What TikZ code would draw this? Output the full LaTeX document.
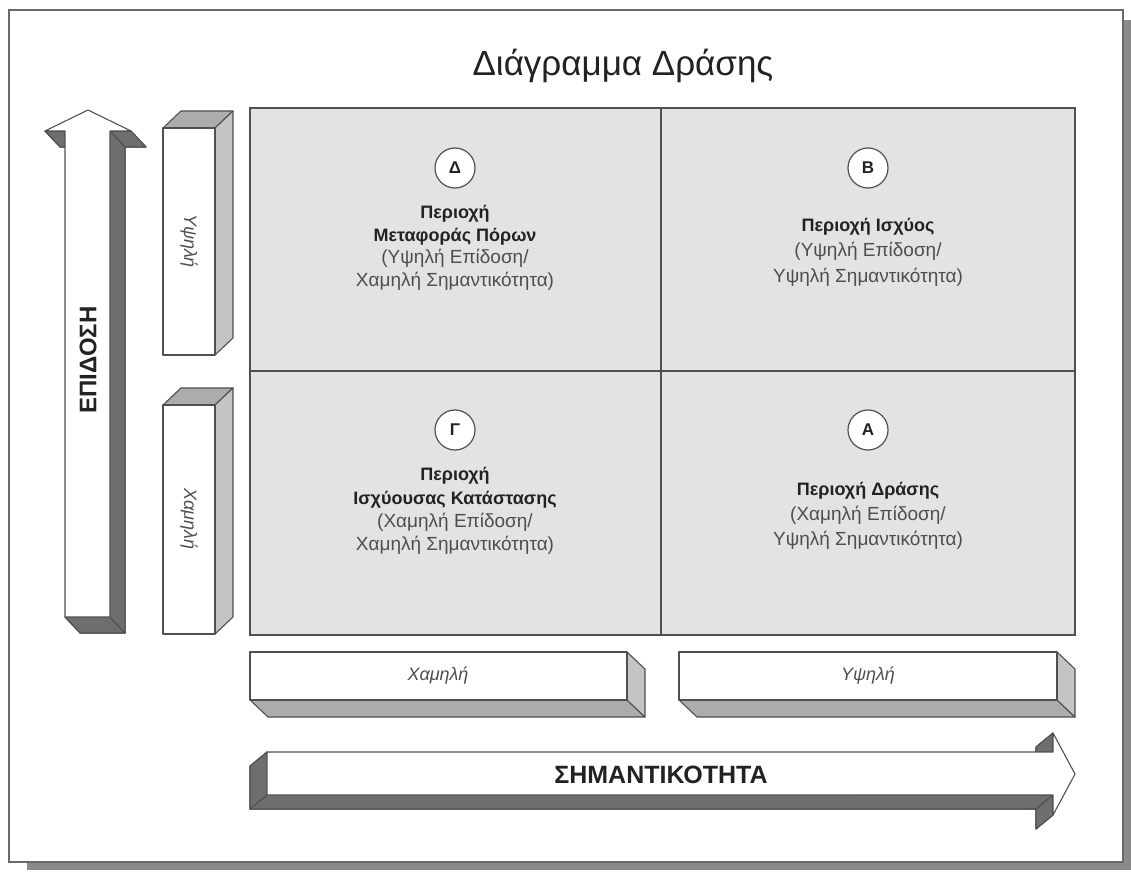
\documentclass[tikz,border=0pt]{standalone}
\usepackage{fontspec}
\setmainfont{Liberation Sans}
\begin{document}
\definecolor{shadowgray}{HTML}{8A8A8A}
\definecolor{framegray}{HTML}{6A6A6A}
\definecolor{cellgray}{HTML}{E3E3E3}
\definecolor{gridline}{HTML}{505050}
\definecolor{darkface}{HTML}{6E6E6E}
\definecolor{topface}{HTML}{ACACAC}
\definecolor{sideface}{HTML}{C4C4C4}
\definecolor{bodytext}{HTML}{4E4E4E}
\definecolor{headtext}{HTML}{222222}
\begin{tikzpicture}[x=1pt,y=-1pt,
  outline/.style={draw=gridline, line width=1.1pt, line join=round},
  front/.style={outline, fill=white},
  darkpart/.style={outline, fill=darkface},
  toppart/.style={outline, fill=topface},
  sidepart/.style={outline, fill=sideface},
  badge/.style={circle, draw=gridline, line width=1.2pt, fill=white,
    minimum size=40pt, inner sep=0pt, text=headtext,
    font=\fontsize{17}{17}\selectfont\bfseries},
  zone/.style={align=center, text=bodytext},
  barlabel/.style={text=bodytext, font=\fontsize{18}{18}\selectfont\itshape}]
\useasboundingbox (0,0) rectangle (1131,874);

% page frame with drop shadow
\fill[shadowgray] (27,20) rectangle (1131,870);
\filldraw[fill=white, draw=framegray, line width=1.2pt] (9,10) rectangle (1123,862);

% title
\node[text=headtext, font=\fontsize{35}{35}\selectfont] (title) at (623,66) {Διάγραμμα Δράσης};

% four-cell matrix
\filldraw[fill=cellgray, draw=gridline, line width=1.5pt] (250,108) rectangle (1075,635);
\draw[gridline, line width=1.5pt] (661,108) -- (661,635);
\draw[gridline, line width=1.5pt] (250,371) -- (1075,371);

% vertical axis arrow (extruded toward lower right)
\fill[darkpart] (110,131) -- (125,147) -- (125,633) -- (110,617) -- cycle;
\fill[darkpart] (65,617) -- (110,617) -- (125,633) -- (80,633) -- cycle;
\fill[darkpart] (110,131) -- (131,131) -- (146,147) -- (125,147) -- cycle;
\fill[darkpart] (45,131) -- (65,131) -- (80,147) -- (60,147) -- cycle;
\draw[darkpart] (110,131) -- (125,147) -- (125,633) -- (110,617);
\draw[darkpart] (65,617) -- (80,633) -- (125,633);
\draw[darkpart] (131,131) -- (146,147) -- (125,147);
\draw[darkpart] (45,131) -- (60,147) -- (65,147);
\draw[front] (88,110) -- (131,131) -- (110,131) -- (110,617) -- (65,617) -- (65,131) -- (45,131) -- cycle;
\node[rotate=90, text=headtext, font=\fontsize{24}{24}\selectfont\bfseries] (yaxis) at (88,360) {ΕΠΙΔΟΣΗ};

% vertical level bars
\draw[toppart] (163,128) -- (215,128) -- (233,111) -- (181,111) -- cycle;
\draw[sidepart] (215,128) -- (233,111) -- (233,338) -- (215,355) -- cycle;
\draw[front] (163,128) rectangle (215,355);
\node[barlabel, rotate=-90] (yhigh) at (189,241) {Υψηλή};

\draw[toppart] (163,405) -- (215,405) -- (233,388) -- (181,388) -- cycle;
\draw[sidepart] (215,405) -- (233,388) -- (233,617) -- (215,634) -- cycle;
\draw[front] (163,405) rectangle (215,634);
\node[barlabel, rotate=-90] (ylow) at (189,519) {Χαμηλή};

% horizontal level bars
\draw[toppart] (250,700) -- (627,700) -- (645,717) -- (268,717) -- cycle;
\draw[sidepart] (627,652) -- (645,669) -- (645,717) -- (627,700) -- cycle;
\draw[front] (250,652) rectangle (627,700);
\node[barlabel] (xlow) at (438,676) {Χαμηλή};

\draw[toppart] (679,700) -- (1057,700) -- (1075,717) -- (697,717) -- cycle;
\draw[sidepart] (1057,652) -- (1075,669) -- (1075,717) -- (1057,700) -- cycle;
\draw[front] (679,652) rectangle (1057,700);
\node[barlabel] (xhigh) at (868,676) {Υψηλή};

% horizontal axis arrow (extruded toward lower left)
\fill[darkpart] (267,752) -- (267,795) -- (250,809) -- (250,766) -- cycle;
\fill[darkpart] (267,795) -- (1053,795) -- (1036,809) -- (250,809) -- cycle;
\fill[darkpart] (1053,795) -- (1053,815) -- (1036,829) -- (1036,809) -- cycle;
\fill[darkpart] (1053,733) -- (1053,752) -- (1036,766) -- (1036,747) -- cycle;
\draw[darkpart] (267,752) -- (250,766) -- (250,809) -- (1036,809);
\draw[darkpart] (267,795) -- (250,809);
\draw[darkpart] (1053,815) -- (1036,829) -- (1036,809);
\draw[darkpart] (1053,733) -- (1036,747) -- (1036,752);
\draw[front] (267,752) -- (1053,752) -- (1053,733) -- (1075,774) -- (1053,815) -- (1053,795) -- (267,795) -- cycle;
\node[text=headtext, font=\fontsize{25}{25}\selectfont\bfseries] (xaxis) at (661,775) {ΣΗΜΑΝΤΙΚΟΤΗΤΑ};

% cell badges
\node[badge] (bd) at (455,168) {Δ};
\node[badge] (bb) at (868,168) {Β};
\node[badge] (bg) at (455,430) {Γ};
\node[badge] (ba) at (868,430) {Α};

% cell descriptions
\node[zone, font=\fontsize{19}{22.5}\selectfont] (zd) at (455,248)
  {\textcolor{headtext}{\fontsize{18}{22.5}\selectfont\bfseries Περιοχή}\\ \textcolor{headtext}{\fontsize{18}{22.5}\selectfont\bfseries Μεταφοράς Πόρων}\\ (Υψηλή Επίδοση/\\ Χαμηλή Σημαντικότητα)};
\node[zone, font=\fontsize{19}{25.5}\selectfont] (zb) at (868,252)
  {\textcolor{headtext}{\fontsize{18}{25.5}\selectfont\bfseries Περιοχή Ισχύος}\\ (Υψηλή Επίδοση/\\ Υψηλή Σημαντικότητα)};
\node[zone, font=\fontsize{19}{23.3}\selectfont] (zg) at (455,511)
  {\textcolor{headtext}{\fontsize{18}{23.3}\selectfont\bfseries Περιοχή}\\ \textcolor{headtext}{\fontsize{18}{23.3}\selectfont\bfseries Ισχύουσας Κατάστασης}\\ (Χαμηλή Επίδοση/\\ Χαμηλή Σημαντικότητα)};
\node[zone, font=\fontsize{19}{25}\selectfont] (za) at (868,516)
  {\textcolor{headtext}{\fontsize{18}{25}\selectfont\bfseries Περιοχή Δράσης}\\ (Χαμηλή Επίδοση/\\ Υψηλή Σημαντικότητα)};
\end{tikzpicture}
\end{document}
